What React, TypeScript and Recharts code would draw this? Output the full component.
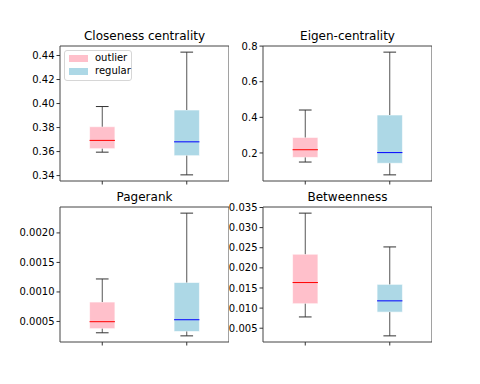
import React from "react";
import { ComposedChart, XAxis, YAxis, Scatter, ReferenceArea, ReferenceLine } from "recharts";

const groups = ["outlier", "regular"];
const boxFills = ["#ffc0cb", "#add8e6"];
const medianColors = ["#ff0000", "#0000ff"];

// [low whisker, q1, median, q3, high whisker]
const closenessOutlier = [0.3595, 0.3624, 0.3693, 0.3807, 0.3975];
const closenessRegular = [0.3406, 0.3566, 0.3681, 0.3946, 0.4428];
const eigenOutlier = [0.149, 0.175, 0.218, 0.287, 0.441];
const eigenRegular = [0.077, 0.142, 0.202, 0.413, 0.766];
const pagerankOutlier = [0.000308, 0.000378, 0.000496, 0.000829, 0.00122];
const pagerankRegular = [0.000256, 0.00033, 0.000529, 0.00116, 0.002335];
const betweennessOutlier = [0.0078, 0.0111, 0.01635, 0.0234, 0.0336];
const betweennessRegular = [0.0031, 0.009, 0.0118, 0.0159, 0.0252];

const closenessTicks = [0.34, 0.36, 0.38, 0.4, 0.42, 0.44];
const eigenTicks = [0.2, 0.4, 0.6, 0.8];
const pagerankTicks = [0.0005, 0.001, 0.0015, 0.002];
const betweennessTicks = [0.005, 0.01, 0.015, 0.02, 0.025, 0.03, 0.035];

const PW = 169;
const PH = 135;
const AXW = 60;
const TOPPAD = 8;
const FONT = "DejaVu Sans, sans-serif";

type PanelProps = {
  title: string;
  stats: number[][];
  ticks: number[];
  digits: number;
  left: number;
  top: number;
};

function Panel({ title, stats, ticks, digits, left, top }: PanelProps) {
  const lo = Math.min(...stats.map((s) => s[0]));
  const hi = Math.max(...stats.map((s) => s[4]));
  const pad = (hi - lo) * 0.05;
  const domain = [lo - pad, hi + pad];
  const rows = stats.map((s, i) => ({ pos: i + 1, median: s[2] }));
  const tickStyle = { fontSize: 10, fontFamily: FONT, fill: "#000" };

  return (
    <>
      <div
        style={{
          position: "absolute",
          left,
          top: top - 18,
          width: PW,
          textAlign: "center",
          fontFamily: FONT,
          fontSize: 12,
          lineHeight: "16px",
          color: "#000",
        }}
      >
        {title}
      </div>
      <div style={{ position: "absolute", left: left - AXW, top: top - TOPPAD }}>
        <ComposedChart
          width={AXW + PW}
          height={PH + 14 + TOPPAD}
          data={rows}
          margin={{ top: TOPPAD, right: 0, bottom: 0, left: 0 }}
        >
          <XAxis
            type="number"
            dataKey="pos"
            domain={[0.5, 2.5]}
            ticks={[1, 2]}
            interval={0}
            tickFormatter={() => ""}
            height={14}
            tickSize={3.5}
            axisLine={false}
            stroke="#333"
            tick={tickStyle}
          />
          <YAxis
            type="number"
            domain={domain}
            ticks={ticks}
            interval={0}
            width={AXW}
            tickSize={3.5}
            tickMargin={2}
            axisLine={false}
            stroke="#333"
            tick={tickStyle}
            tickFormatter={(v: number) => v.toFixed(digits)}
            allowDataOverflow
          />
          <Scatter dataKey="median" shape={() => <g />} isAnimationActive={false} />
          {stats.map((s, i) => {
            const x = i + 1;
            return (
              <React.Fragment key={groups[i]}>
                <ReferenceArea
                  x1={x - 0.15}
                  x2={x + 0.15}
                  y1={s[1]}
                  y2={s[3]}
                  fill={boxFills[i]}
                  fillOpacity={1}
                  stroke="#ffffff"
                  strokeOpacity={0.6}
                />
                <ReferenceLine
                  segment={[{ x, y: s[0] }, { x, y: s[1] }]}
                  stroke="#555"
                />
                <ReferenceLine
                  segment={[{ x, y: s[3] }, { x, y: s[4] }]}
                  stroke="#555"
                />
                <ReferenceLine
                  segment={[{ x: x - 0.075, y: s[0] }, { x: x + 0.075, y: s[0] }]}
                  stroke="#333"
                />
                <ReferenceLine
                  segment={[{ x: x - 0.075, y: s[4] }, { x: x + 0.075, y: s[4] }]}
                  stroke="#333"
                />
                <ReferenceLine
                  segment={[{ x: x - 0.15, y: s[2] }, { x: x + 0.15, y: s[2] }]}
                  stroke={medianColors[i]}
                />
              </React.Fragment>
            );
          })}
          <ReferenceArea
            x1={0.5}
            x2={2.5}
            y1={domain[0]}
            y2={domain[1]}
            fill="none"
            stroke="#444"
            strokeWidth={1}
          />
        </ComposedChart>
      </div>
    </>
  );
}

function LegendBox() {
  return (
    <div
      style={{
        position: "absolute",
        left: 64,
        top: 50,
        width: 66,
        height: 29,
        border: "1px solid #d6d6d6",
        borderRadius: 3,
        background: "rgba(255,255,255,0.8)",
        fontFamily: FONT,
        fontSize: 10,
      }}
    >
      {groups.map((g, i) => (
        <React.Fragment key={g}>
          <div
            style={{
              position: "absolute",
              left: 4,
              top: 4 + i * 13,
              width: 19,
              height: 7,
              background: boxFills[i],
            }}
          />
          <div
            style={{
              position: "absolute",
              left: 30,
              top: 1 + i * 13,
              lineHeight: "12px",
              color: "#000",
            }}
          >
            {g}
          </div>
        </React.Fragment>
      ))}
    </div>
  );
}

export default function App() {
  return (
    <div
      style={{
        position: "absolute",
        left: 0,
        top: 0,
        width: 480,
        height: 384,
        background: "#fff",
        overflow: "hidden",
      }}
    >
      <Panel
        title="Closeness centrality"
        stats={[closenessOutlier, closenessRegular]}
        ticks={closenessTicks}
        digits={2}
        left={60}
        top={46}
      />
      <Panel
        title="Eigen-centrality"
        stats={[eigenOutlier, eigenRegular]}
        ticks={eigenTicks}
        digits={1}
        left={263}
        top={46}
      />
      <Panel
        title="Pagerank"
        stats={[pagerankOutlier, pagerankRegular]}
        ticks={pagerankTicks}
        digits={4}
        left={60}
        top={207}
      />
      <Panel
        title="Betweenness"
        stats={[betweennessOutlier, betweennessRegular]}
        ticks={betweennessTicks}
        digits={3}
        left={263}
        top={207}
      />
      <LegendBox />
    </div>
  );
}
